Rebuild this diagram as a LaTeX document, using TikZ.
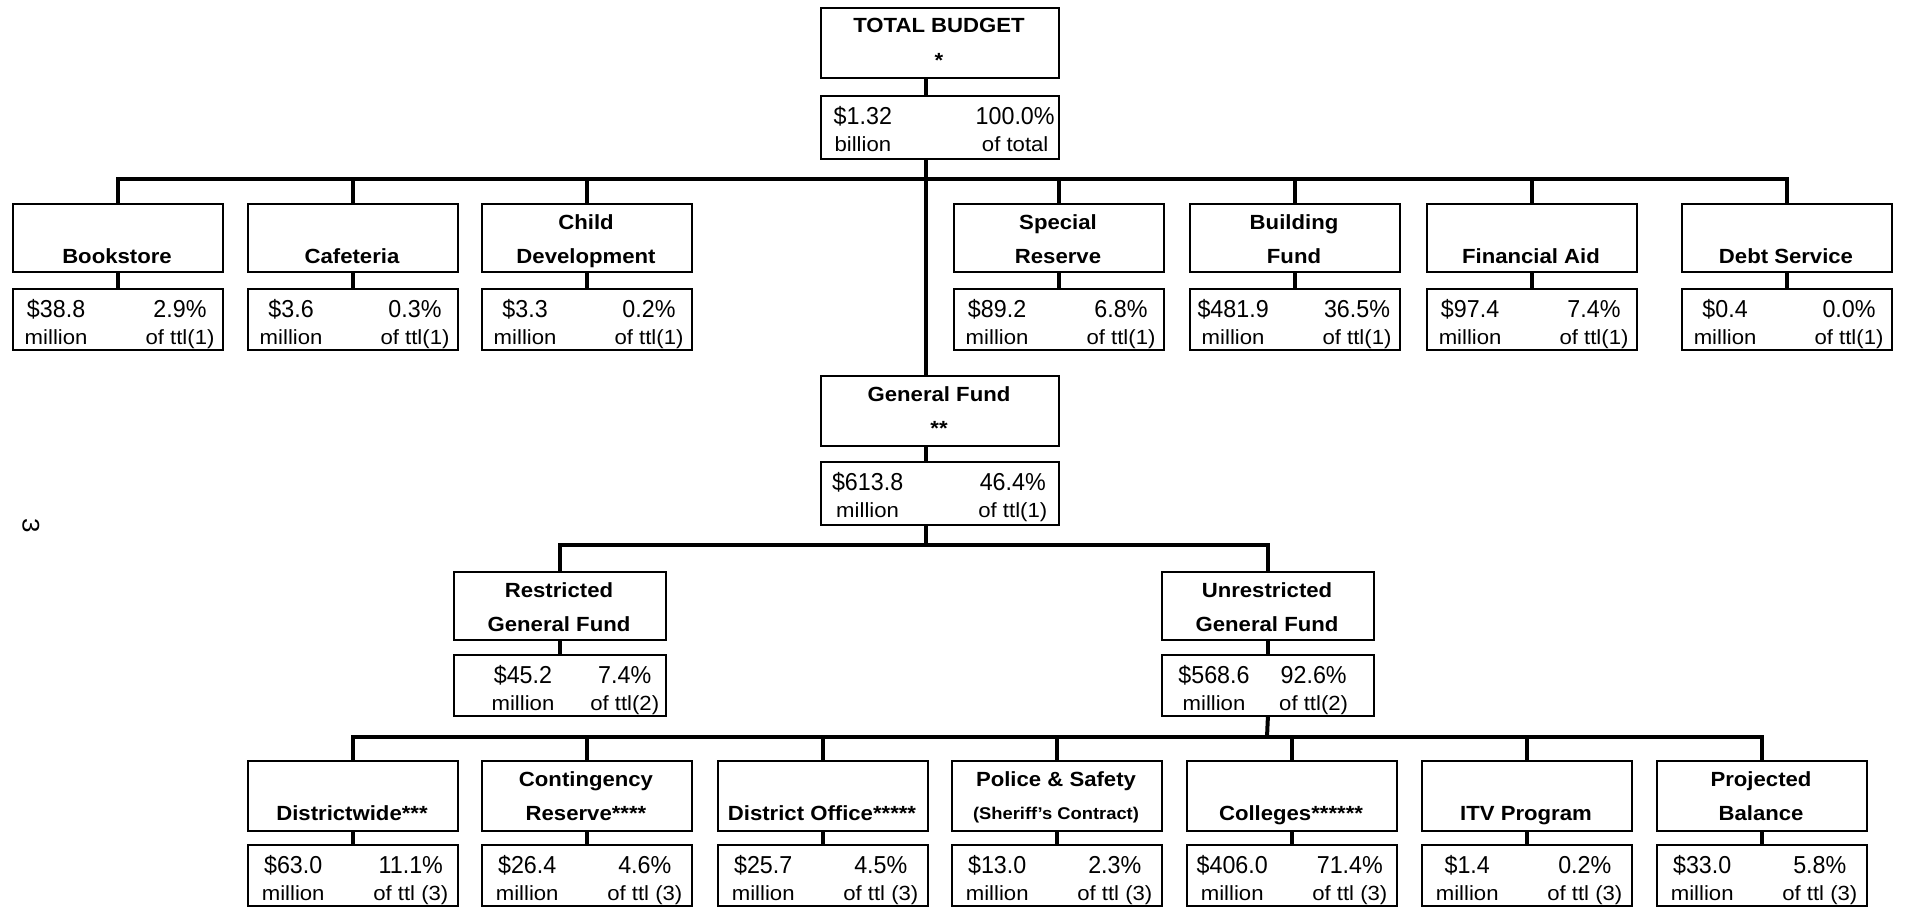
\documentclass[tikz,border=0pt]{standalone}
\usepackage{fontspec}
\setmainfont[FakeStretch=1.08]{Liberation Sans}
\newfontfamily\valfont[FakeStretch=0.95]{Liberation Sans}
\begin{document}
\begin{tikzpicture}[x=1pt,y=-1pt]
\tikzset{
 box/.style={draw, line width=1.8pt, inner sep=0pt, anchor=north west},
 conn/.style={line width=4pt},
 ttl/.style={font=\fontsize{20.5}{23}\selectfont\bfseries, anchor=base, inner sep=0pt},
 sml/.style={font=\fontsize{17}{19}\selectfont\bfseries, anchor=base, inner sep=0pt},
 val/.style={font=\valfont\fontsize{24.5}{27}\selectfont, anchor=base, inner sep=0pt},
 lab/.style={font=\fontsize{20.5}{23}\selectfont, anchor=base, inner sep=0pt},
}
\useasboundingbox[fill=white] (0,0) rectangle (1905,907);
\newcommand\titlebox[7]{%
 \node[box, minimum width=#4pt, minimum height=#5pt] (#1) at (#2,#3) {};
 \node[ttl] (#1-l1) at ({#2+#4/2},{#3+26}) {#6};
 \node[ttl] (#1-l2) at ({#2+#4/2},{#3+60}) {#7};}
\def\lc{0.21}\def\rc{0.8}
\newcommand\valbox[9]{%
 \node[box, minimum width=#4pt, minimum height=#5pt] (#1) at (#2,#3) {};
 \node[val] (#1-v) at ({#2+\lc*#4},{#3+29.5}) {#6};
 \node[lab] (#1-u) at ({#2+\lc*#4},{#3+56}) {#7};
 \node[val] (#1-p) at ({#2+\rc*#4},{#3+29.5}) {#8};
 \node[lab] (#1-o) at ({#2+\rc*#4},{#3+56}) {#9};}
% top
\titlebox{tot}{820}{7}{238}{70}{TOTAL BUDGET}{*}
\def\lc{0.18}\def\rc{0.82}
\valbox{totv}{820}{95}{238}{63}{\$1.32}{billion}{100.0\%}{of total}
\titlebox{gf}{820}{375}{238}{70}{General Fund}{**}
\def\lc{0.2}\def\rc{0.81}
\valbox{gfv}{820}{461}{238}{63}{\$613.8}{million}{46.4\%}{of ttl(1)}
% row 1
\def\lc{0.21}\def\rc{0.8}
\titlebox{book}{12}{203}{210}{68}{}{Bookstore}
\valbox{bookv}{12}{288}{210}{61}{\$38.8}{million}{2.9\%}{of ttl(1)}
\titlebox{caf}{247}{203}{210}{68}{}{Cafeteria}
\valbox{cafv}{247}{288}{210}{61}{\$3.6}{million}{0.3\%}{of ttl(1)}
\titlebox{child}{481}{203}{210}{68}{Child}{Development}
\valbox{childv}{481}{288}{210}{61}{\$3.3}{million}{0.2\%}{of ttl(1)}
\titlebox{spec}{953}{203}{210}{68}{Special}{Reserve}
\valbox{specv}{953}{288}{210}{61}{\$89.2}{million}{6.8\%}{of ttl(1)}
\titlebox{bldg}{1189}{203}{210}{68}{Building}{Fund}
\valbox{bldgv}{1189}{288}{210}{61}{\$481.9}{million}{36.5\%}{of ttl(1)}
\titlebox{fin}{1426}{203}{210}{68}{}{Financial Aid}
\valbox{finv}{1426}{288}{210}{61}{\$97.4}{million}{7.4\%}{of ttl(1)}
\titlebox{debt}{1681}{203}{210}{68}{}{Debt Service}
\valbox{debtv}{1681}{288}{210}{61}{\$0.4}{million}{0.0\%}{of ttl(1)}
% row 2
\titlebox{res}{453}{571}{212}{68}{Restricted}{General Fund}
\def\lc{0.33}\def\rc{0.81}
\valbox{resv}{453}{654}{212}{61}{\$45.2}{million}{7.4\%}{of ttl(2)}
\titlebox{unr}{1161}{571}{212}{68}{Unrestricted}{General Fund}
\def\lc{0.25}\def\rc{0.72}
\valbox{unrv}{1161}{654}{212}{61}{\$568.6}{million}{92.6\%}{of ttl(2)}
% row 3
\def\lc{0.22}\def\rc{0.78}
\titlebox{dw}{247}{760}{210}{70}{}{Districtwide***}
\valbox{dwv}{247}{844}{210}{61}{\$63.0}{million}{11.1\%}{of ttl (3)}
\titlebox{cont}{481}{760}{210}{70}{Contingency}{Reserve****}
\valbox{contv}{481}{844}{210}{61}{\$26.4}{million}{4.6\%}{of ttl (3)}
\titlebox{doff}{717}{760}{210}{70}{}{District Office*****}
\valbox{doffv}{717}{844}{210}{61}{\$25.7}{million}{4.5\%}{of ttl (3)}
\node[box, minimum width=210pt, minimum height=70pt] (pol) at (951,760) {};
\node[ttl] (pol-l1) at (1056,786) {Police \& Safety};
\node[sml] (pol-l2) at (1056,819) {(Sheriff's Contract)};
\valbox{polv}{951}{844}{210}{61}{\$13.0}{million}{2.3\%}{of ttl (3)}
\titlebox{col}{1186}{760}{210}{70}{}{Colleges******}
\valbox{colv}{1186}{844}{210}{61}{\$406.0}{million}{71.4\%}{of ttl (3)}
\titlebox{itv}{1421}{760}{210}{70}{}{ITV Program}
\valbox{itvv}{1421}{844}{210}{61}{\$1.4}{million}{0.2\%}{of ttl (3)}
\titlebox{proj}{1656}{760}{210}{70}{Projected}{Balance}
\valbox{projv}{1656}{844}{210}{61}{\$33.0}{million}{5.8\%}{of ttl (3)}
% page number
\node[font=\fontsize{24}{24}\selectfont, rotate=-90, inner sep=0pt] (pg) at (31,526) {3};
% connectors
\coordinate (spine) at (926,0);
\coordinate (bar1) at (926,179);
\coordinate (bar2) at (926,545);
\coordinate (bar3) at (1267,737);
\draw[conn] (tot.south -| spine) -- (totv.north -| spine);
\draw[conn] (totv.south -| spine) -- (gf.north -| spine);
\draw[conn] (gf.south -| spine) -- (gfv.north -| spine);
\draw[conn] (gfv.south -| spine) -- (bar2);
\foreach \n in {book,caf,child,spec,bldg,fin,debt}{
 \draw[conn] (bar1) -| (\n.north);
 \draw[conn] (\n.south) -- (\n v.north);
}
\foreach \n in {res,unr}{
 \draw[conn] (bar2) -| (\n.north);
 \draw[conn] (\n.south) -- (\n v.north);
}
\draw[conn] (unrv.south) -- (bar3);
\foreach \n in {dw,cont,doff,pol,col,itv,proj}{
 \draw[conn] (bar3) -| (\n.north);
 \draw[conn] (\n.south) -- (\n v.north);
}
\end{tikzpicture}
\end{document}
